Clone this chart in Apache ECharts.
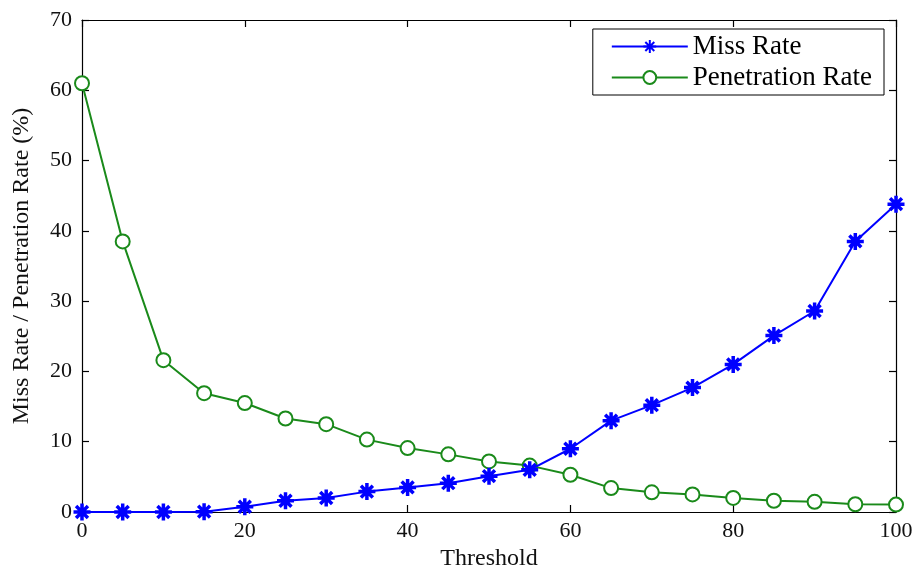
<!DOCTYPE html>
<html>
<head>
<meta charset="utf-8">
<script src="https://cdn.jsdelivr.net/npm/echarts@6/dist/echarts.min.js"></script>
<style>
  html, body { margin: 0; padding: 0; background: #fff; }
  #chart { width: 917px; height: 567px; }
</style>
</head>
<body>
<div id="chart"></div>
<script>
// data
var thresholds = [0, 5, 10, 15, 20, 25, 30, 35, 40, 45, 50, 55, 60, 65, 70, 75, 80, 85, 90, 95, 100];
var missRate = [0, 0, 0, 0.05, 0.75, 1.6, 2.0, 2.9, 3.5, 4.1, 5.1, 6.0, 9.0, 13.0, 15.2, 17.7, 21.0, 25.1, 28.6, 38.5, 43.8];
var penetrationRate = [61.0, 38.5, 21.6, 16.9, 15.5, 13.3, 12.5, 10.3, 9.1, 8.2, 7.2, 6.6, 5.3, 3.4, 2.8, 2.5, 2.0, 1.6, 1.45, 1.1, 1.05];
var xTicks = { min: 0, max: 100, interval: 20 };
var yTicks = { min: 0, max: 70, interval: 10 };

var font = 'Liberation Serif';
var asterisk = 'path://M5,0L5,10M0,5L10,5M1.5,1.5L8.5,8.5M8.5,1.5L1.5,8.5';

function pairs(ys) {
    return thresholds.map(function (x, i) { return [x, ys[i]]; });
}

var chart = echarts.init(document.getElementById('chart'));

var axisCommon = {
    axisLine: { show: true, onZero: false, lineStyle: { color: '#000', width: 1.2 } },
    axisTick: { show: true, inside: true, length: 7, lineStyle: { color: '#000', width: 1.2 } },
    splitLine: { show: false }
};

var option = {
    backgroundColor: '#fff',
    animation: false,
    grid: { left: 82, right: 21, top: 20, bottom: 55, containLabel: false, outerBoundsMode: 'none' },
    legend: {
        orient: 'vertical',
        right: 33,
        top: 29,
        padding: [4, 12, 4, 18],
        itemGap: 4,
        itemWidth: 76,
        itemHeight: 16,
        borderColor: '#000',
        borderWidth: 1,
        backgroundColor: '#fff',
        textStyle: { fontFamily: font, fontSize: 27, color: '#000' },
        data: ['Miss Rate', 'Penetration Rate']
    },
    xAxis: [
        Object.assign({
            type: 'value', position: 'bottom',
            min: xTicks.min, max: xTicks.max, interval: xTicks.interval,
            name: 'Threshold', nameLocation: 'middle', nameGap: 27,
            nameTextStyle: { fontFamily: font, fontSize: 24, color: '#111' },
            axisLabel: { fontFamily: font, fontSize: 22, color: '#111', margin: 8 }
        }, axisCommon),
        Object.assign({
            type: 'value', position: 'top',
            min: xTicks.min, max: xTicks.max, interval: xTicks.interval,
            axisLabel: { show: false }
        }, axisCommon)
    ],
    yAxis: [
        Object.assign({
            type: 'value', position: 'left',
            min: yTicks.min, max: yTicks.max, interval: yTicks.interval,
            name: 'Miss Rate / Penetration Rate (%)', nameLocation: 'middle', nameGap: 48,
            nameTextStyle: { fontFamily: font, fontSize: 24, color: '#111' },
            axisLabel: { fontFamily: font, fontSize: 22, color: '#111', margin: 10 }
        }, axisCommon),
        Object.assign({
            type: 'value', position: 'right',
            min: yTicks.min, max: yTicks.max, interval: yTicks.interval,
            axisLabel: { show: false }
        }, axisCommon)
    ],
    series: [
        {
            name: 'Miss Rate',
            type: 'line',
            data: pairs(missRate),
            symbol: asterisk,
            symbolSize: 17,
            lineStyle: { color: '#0000ff', width: 2 },
            itemStyle: { color: '#0000ff', borderColor: '#0000ff', borderWidth: 3.5 },
            z: 3
        },
        {
            name: 'Penetration Rate',
            type: 'line',
            data: pairs(penetrationRate),
            symbol: 'emptyCircle',
            symbolSize: 14,
            lineStyle: { color: '#1a8a1a', width: 2 },
            itemStyle: { color: '#1a8a1a', borderColor: '#1a8a1a', borderWidth: 2 },
            z: 2
        }
    ]
};

chart.setOption(option);
</script>
</body>
</html>
